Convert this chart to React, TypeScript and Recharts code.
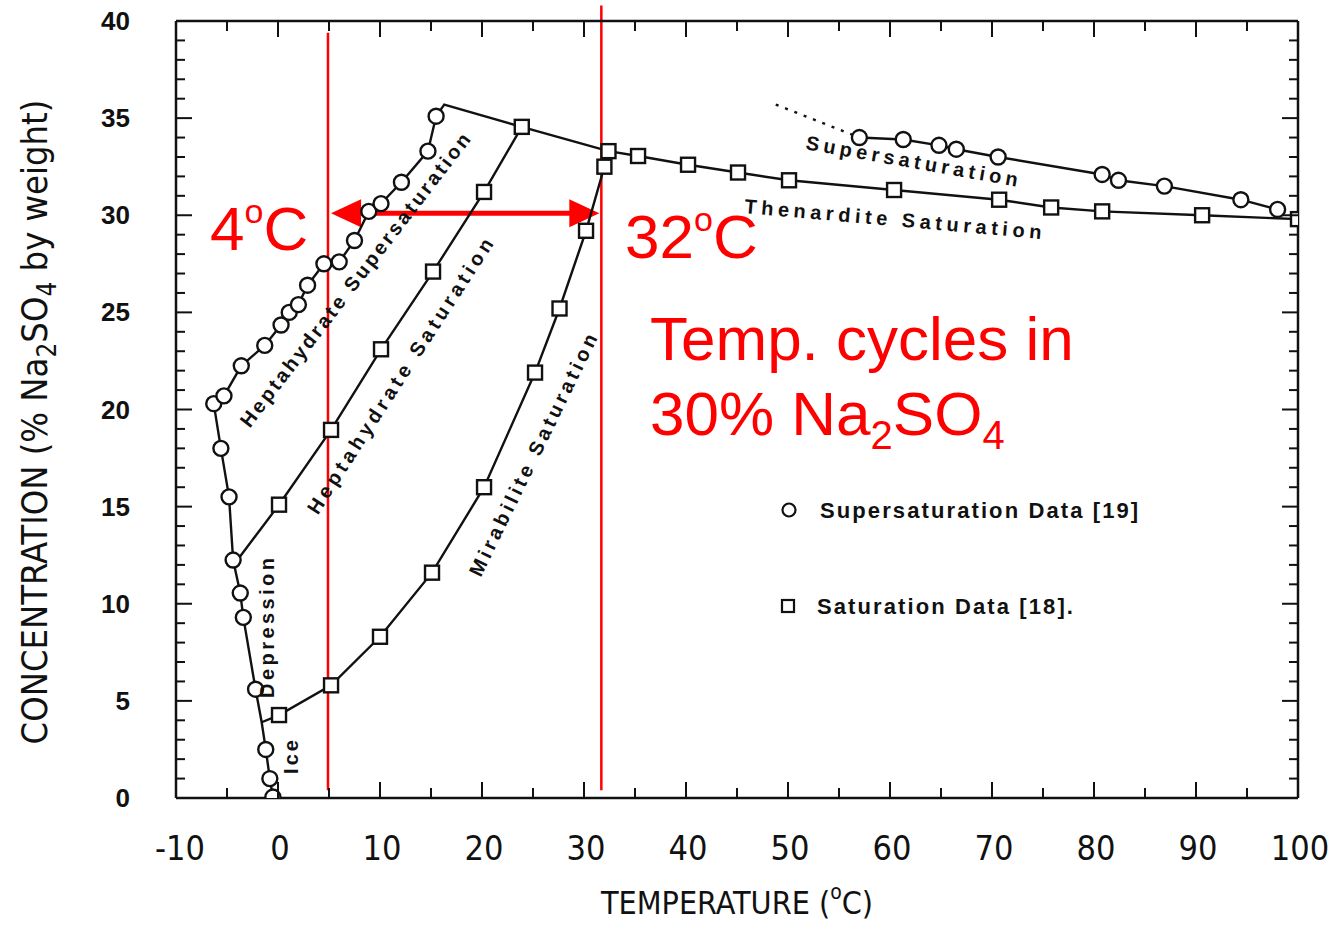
import React from 'react';
import { ComposedChart, Scatter, XAxis, YAxis, ReferenceLine, Legend } from 'recharts';

type P = [number, number];

// [temperature °C, concentration % Na2SO4 by weight]
const iceLower: P[] = [[-0.5, 0.05], [-0.8, 1.0], [-1.2, 2.5]];
const eutectic: P = [-1.6, 3.9];
const iceUpper: P[] = [[-2.2, 5.6], [-3.4, 9.3], [-3.7, 10.55], [-4.4, 12.25], [-4.8, 15.5], [-5.6, 18.0]];
const heptaSuper: P[] = [
  [-6.3, 20.3], [-5.3, 20.7], [-3.6, 22.25], [-1.3, 23.3], [0.3, 24.35], [1.1, 25.0], [2.0, 25.4],
  [2.9, 26.4], [4.5, 27.5], [6.0, 27.6], [7.5, 28.7], [8.9, 30.2], [10.1, 30.6], [12.1, 31.7],
  [14.7, 33.3], [15.5, 35.1],
];
const heptaPeak: P = [16.3, 35.7];
const heptaSatStart: P = [-4.2, 12.1];
const heptaSat: P[] = [[0.1, 15.1], [5.2, 18.95], [10.1, 23.1], [15.2, 27.1], [20.2, 31.2], [23.9, 34.55]];
const mirabilite: P[] = [
  [0.1, 4.27], [5.2, 5.8], [10.0, 8.3], [15.1, 11.6], [20.2, 16.0], [25.2, 21.9], [27.6, 25.2],
  [30.2, 29.2], [32.0, 32.5],
];
const thenardite: P[] = [
  [32.4, 33.3], [35.3, 33.05], [40.2, 32.6], [45.1, 32.2], [50.1, 31.8], [60.4, 31.3], [70.7, 30.8],
  [75.8, 30.4], [80.8, 30.2], [90.6, 30.0], [100.0, 29.8],
];
const thenarditeSuper: P[] = [
  [57.0, 34.0], [61.3, 33.9], [64.8, 33.6], [66.5, 33.4], [70.6, 33.0], [80.8, 32.1], [82.4, 31.8],
  [86.9, 31.5], [94.4, 30.8], [98.0, 30.3],
];
const superExtrapolated: P = [48.8, 35.7];

// red annotation: temperature cycle between the two vertical lines
const cycleLines = [4.9, 31.7];
const arrowSpan = [5.2, 31.5];
const arrowLevel = 30.1;

const xTicks = [-10, -5, 0, 5, 10, 15, 20, 25, 30, 35, 40, 45, 50, 55, 60, 65, 70, 75, 80, 85, 90, 95, 100];
const xLabels = [-10, 0, 10, 20, 30, 40, 50, 60, 70, 80, 90, 100];
const yTicks = Array.from({ length: 41 }, (_, i) => i);

type Pt = { t: number; c: number; m: string };
const mk = (arr: P[], m: string): Pt[] => arr.map(([t, c]) => ({ t, c, m }));
const last = heptaSat[heptaSat.length - 1];

const lines: { key: string; data: Pt[]; dash?: string }[] = [
  {
    key: 'ice-hepta',
    data: [
      ...mk(iceLower, 'o'), ...mk([eutectic], ''), ...mk(iceUpper, 'o'), ...mk(heptaSuper, 'o'),
      ...mk([heptaPeak, last, thenardite[0]], ''),
    ],
  },
  { key: 'heptaSat', data: [...mk([heptaSatStart], ''), ...mk(heptaSat, 's')] },
  { key: 'mirabilite', data: [...mk([eutectic], ''), ...mk(mirabilite, 's'), ...mk([thenardite[0]], '')] },
  { key: 'thenardite', data: mk(thenardite, 's') },
  { key: 'thenarditeSuper', data: mk(thenarditeSuper, 'o') },
  { key: 'extrap', data: mk([superExtrapolated, thenarditeSuper[0]], ''), dash: '3 7' },
];

const INK = '#111';
const RED = '#ff0000';
const SANS = "'Liberation Sans', Arial, sans-serif";
const NARROW = "'Liberation Sans Narrow', 'DejaVu Sans Condensed', 'Liberation Sans', sans-serif";

const Nothing = () => <g />;

const Marker = (props: any) => {
  const { cx, cy } = props;
  const m = props.payload ? props.payload.m : props.m;
  if (m === 'o') return <circle cx={cx} cy={cy} r={7.5} fill="#fff" stroke={INK} strokeWidth={2.4} />;
  if (m === 's') return <rect x={cx - 7} y={cy - 7} width={14} height={14} fill="#fff" stroke={INK} strokeWidth={2.4} />;
  return <g />;
};

const LeftTick = (props: any) => {
  const { x, y, payload } = props;
  const v = payload.value;
  const major = v % 5 === 0;
  return (
    <g>
      <line x1={x} x2={x + (major ? 16 : 9)} y1={y} y2={y} stroke={INK} strokeWidth={2} />
      {major && (
        <text x={x - 46} y={y + 9} textAnchor="end" fontSize={26} fontWeight="bold" fontFamily={SANS} fill={INK}>
          {v}
        </text>
      )}
    </g>
  );
};

const RightTick = (props: any) => {
  const { x, y, payload } = props;
  const major = payload.value % 5 === 0;
  return <line x1={x} x2={x - (major ? 16 : 9)} y1={y} y2={y} stroke={INK} strokeWidth={2} />;
};

const BottomTick = (props: any) => {
  const { x, y, payload } = props;
  const v = payload.value;
  const major = v % 10 === 0;
  return (
    <g>
      <line x1={x} x2={x} y1={y} y2={y - (major ? 16 : 10)} stroke={INK} strokeWidth={2} />
      {xLabels.includes(v) && (
        <text x={x + (v < 0 ? 4 : 2)} y={y + 62} textAnchor="middle" fontSize={34} fontFamily={NARROW} fill={INK}>
          {v}
        </text>
      )}
    </g>
  );
};

const TopTick = (props: any) => {
  const { x, y, payload } = props;
  const major = payload.value % 10 === 0;
  return <line x1={x} x2={x} y1={y} y2={y + (major ? 16 : 10)} stroke={INK} strokeWidth={2} />;
};

const Arrow = (props: any) => {
  const { x1, y1, x2, y2 } = props;
  const h = 30;
  const w = 14;
  return (
    <g>
      <line x1={x1 + h - 2} y1={y1} x2={x2 - h + 2} y2={y2} stroke={RED} strokeWidth={5} />
      <polygon points={`${x1},${y1} ${x1 + h},${y1 - w} ${x1 + h},${y1 + w}`} fill={RED} />
      <polygon points={`${x2},${y2} ${x2 - h},${y2 - w} ${x2 - h},${y2 + w}`} fill={RED} />
    </g>
  );
};

const LegendBox = () => (
  <div style={{ fontFamily: SANS, fontWeight: 'bold', fontSize: 22, color: INK, position: 'relative', height: 130 }}>
    <svg width={20} height={20} style={{ position: 'absolute', left: 7, top: 8 }}>
      <circle cx={10} cy={10} r={6.5} fill="#fff" stroke={INK} strokeWidth={2.2} />
    </svg>
    <span style={{ position: 'absolute', left: 48, top: 6, letterSpacing: 2.1, whiteSpace: 'nowrap' }}>
      Supersaturation Data [19]
    </span>
    <svg width={20} height={20} style={{ position: 'absolute', left: 6, top: 104 }}>
      <rect x={4} y={4} width={12} height={12} fill="#fff" stroke={INK} strokeWidth={2.2} />
    </svg>
    <span style={{ position: 'absolute', left: 45, top: 102, letterSpacing: 2.1, whiteSpace: 'nowrap' }}>
      Saturation Data [18].
    </span>
  </div>
);

const curveLabel = (text: string, cx: number, cy: number, angle: number, len: number) => (
  <text
    key={text}
    transform={`translate(${cx},${cy}) rotate(${angle})`}
    textAnchor="middle"
    dy={7}
    fontSize={20}
    fontWeight="bold"
    fontFamily={SANS}
    fill={INK}
    textLength={len}
    lengthAdjust="spacing"
  >
    {text}
  </text>
);

export default function App() {
  return (
    <div style={{ position: 'absolute', left: 0, top: 0, width: 1334, height: 927, background: '#fff' }}>
      <ComposedChart width={1334} height={927} margin={{ top: 20, right: 35, bottom: 128, left: 175 }}>
        <XAxis
          type="number"
          dataKey="t"
          domain={[-10, 100]}
          allowDataOverflow
          ticks={xTicks}
          interval={0}
          tick={<BottomTick />}
          tickSize={0}
          tickMargin={0}
          tickLine={false}
          height={1}
          axisLine={{ stroke: INK, strokeWidth: 2.5 }}
        />
        <XAxis
          xAxisId="top"
          orientation="top"
          type="number"
          dataKey="t"
          domain={[-10, 100]}
          allowDataOverflow
          ticks={xTicks}
          interval={0}
          tick={<TopTick />}
          tickSize={0}
          tickMargin={0}
          tickLine={false}
          height={1}
          axisLine={{ stroke: INK, strokeWidth: 2.5 }}
        />
        <YAxis
          type="number"
          dataKey="c"
          domain={[0, 40]}
          allowDataOverflow
          ticks={yTicks}
          interval={0}
          tick={<LeftTick />}
          tickSize={0}
          tickMargin={0}
          tickLine={false}
          width={1}
          axisLine={{ stroke: INK, strokeWidth: 2.5 }}
        />
        <YAxis
          yAxisId="right"
          orientation="right"
          type="number"
          dataKey="c"
          domain={[0, 40]}
          allowDataOverflow
          ticks={yTicks}
          interval={0}
          tick={<RightTick />}
          tickSize={0}
          tickMargin={0}
          tickLine={false}
          width={1}
          axisLine={{ stroke: INK, strokeWidth: 2.5 }}
        />
        {lines.map((l) => (
          <Scatter
            key={`line-${l.key}`}
            data={l.data}
            line={{ stroke: INK, strokeWidth: 2.4, strokeDasharray: l.dash }}
            shape={<Nothing />}
            legendType="none"
            isAnimationActive={false}
          />
        ))}
        {lines.map((l) => (
          <Scatter
            key={`mark-${l.key}`}
            data={l.data.filter((p) => p.m)}
            shape={<Marker />}
            legendType="none"
            isAnimationActive={false}
          />
        ))}
        <ReferenceLine
          segment={[{ x: cycleLines[0], y: 0.4 }, { x: cycleLines[0], y: 39.4 }]}
          stroke={RED}
          strokeWidth={2.5}
          ifOverflow="visible"
        />
        <ReferenceLine
          segment={[{ x: cycleLines[1], y: 0.4 }, { x: cycleLines[1], y: 40.8 }]}
          stroke={RED}
          strokeWidth={2.5}
          ifOverflow="visible"
        />
        <ReferenceLine
          segment={[{ x: arrowSpan[0], y: arrowLevel }, { x: arrowSpan[1], y: arrowLevel }]}
          shape={<Arrow />}
          ifOverflow="visible"
        />
        <Legend
          layout="vertical"
          align="center"
          verticalAlign="middle"
          content={<LegendBox />}
          wrapperStyle={{ left: 772, top: 492, width: 420, height: 130 }}
        />
      </ComposedChart>

      <svg width={1334} height={927} style={{ position: 'absolute', left: 0, top: 0, pointerEvents: 'none' }}>
        <text transform="translate(47,422) rotate(-90)" textAnchor="middle" fontSize={36} fontFamily={NARROW} fill={INK}>
          CONCENTRATION (% Na<tspan fontSize={26} dy={9}>2</tspan>
          <tspan dy={-9}>SO</tspan>
          <tspan fontSize={26} dy={9}>4</tspan>
          <tspan dy={-9}> by weight)</tspan>
        </text>
        <text x={737} y={914} textAnchor="middle" fontSize={32} fontFamily={NARROW} fill={INK}>
          TEMPERATURE (<tspan fontSize={21} dy={-15}>o</tspan>
          <tspan dy={15}>C)</tspan>
        </text>

        {curveLabel('Heptahydrate Supersaturation', 355, 280, -52.5, 364)}
        {curveLabel('Heptahydrate Saturation', 400, 376, -57, 324)}
        {curveLabel('Mirabilite Saturation', 533, 455, -64, 267)}
        {curveLabel('Depression', 267, 628, -90, 140)}
        {curveLabel('Ice', 291, 757, -90, 34)}
        {curveLabel('Supersaturation', 912, 161, 10, 215)}
        {curveLabel('Thenardite Saturation', 893, 219, 5, 298)}

        <g fontFamily={SANS} fill={RED} fontSize={62}>
          <text x={210} y={250}>
            4<tspan fontSize={34} dy={-27}>o</tspan>
            <tspan dy={27}>C</tspan>
          </text>
          <text x={625} y={258}>
            32<tspan fontSize={34} dy={-27}>o</tspan>
            <tspan dy={27}>C</tspan>
          </text>
          <text x={650} y={360}>Temp. cycles in</text>
          <text x={650} y={435}>
            30% Na<tspan fontSize={40} dy={14}>2</tspan>
            <tspan dy={-14}>SO</tspan>
            <tspan fontSize={40} dy={14}>4</tspan>
          </text>
        </g>
      </svg>
    </div>
  );
}
